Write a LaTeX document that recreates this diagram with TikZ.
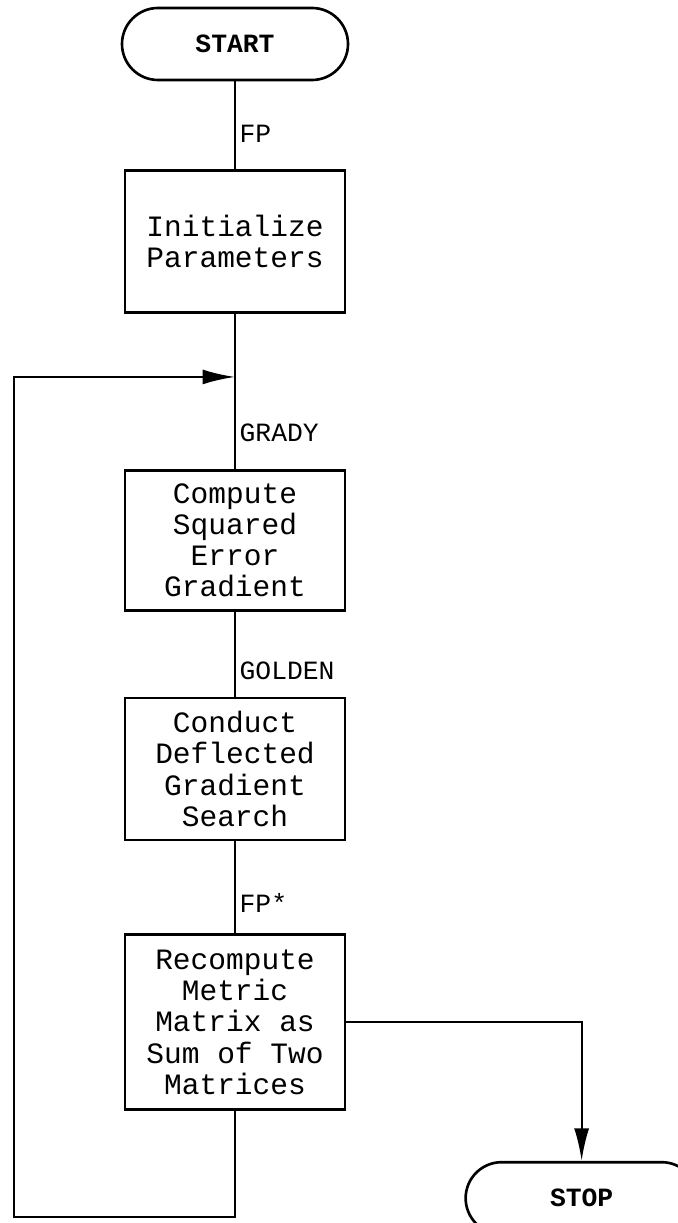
\documentclass[tikz,border=0pt]{standalone}
\usepackage{fontspec}
\setmonofont{Liberation Mono}
\usepackage{tikz}
\usetikzlibrary{arrows.meta, positioning, calc}

\begin{document}
\begin{tikzpicture}[
  procbox/.style  = {draw, line width=1.5pt, minimum width=4.4cm, align=center, inner sep=3pt,
                     font=\ttfamily\fontsize{16.8}{17.8}\selectfont},
  termbox/.style  = {draw, line width=1.5pt, rounded corners=0.72cm, minimum height=1.44cm,
                     align=center, font=\ttfamily\bfseries\fontsize{15}{18}\selectfont},
  flow/.style     = {line width=1.3pt},
  arrow/.style    = {flow, -{Latex[length=0.65cm, width=0.3cm]}},
  lbl/.style      = {right, inner sep=2pt, font=\ttfamily\fontsize{15}{18}\selectfont},
  node distance   = 1.7cm,
]

\useasboundingbox (0,0) rectangle (13.54,-24.46);

%% ==================== MAIN COLUMN ====================
\node[termbox, minimum width=4.52cm] (start) at (4.70,-0.88) {START};

\node[procbox, below=1.76cm of start, minimum height=2.84cm] (init)
      {Initialize\\Parameters};

\node[procbox, below=3.10cm of init, minimum height=2.80cm] (grad)
      {Compute\\Squared\\Error\\Gradient};

\node[procbox, below=1.70cm of grad, minimum height=2.84cm] (search)
      {Conduct\\Deflected\\Gradient\\Search};

\node[procbox, below=1.84cm of search, minimum height=3.50cm] (recomp)
      {Recompute\\Metric\\Matrix as\\Sum of Two\\Matrices};

\node[termbox, minimum width=4.64cm, below right=1.0cm and 2.36cm of recomp] (stop) {STOP};

%% loop corners
\coordinate[below=1.26cm of init] (join);
\coordinate[below=2.12cm of recomp] (loopb);

%% ==================== CONNECTORS ====================
\draw[flow] (start) -- (init) node[lbl, pos=0.6] {FP};
\draw[flow] (init)  -- (grad) node[lbl, pos=0.77] {GRADY};
\draw[flow] (grad)  -- (search) node[lbl, pos=0.7] {GOLDEN};
\draw[flow] (search) -- (recomp) node[lbl, pos=0.67] {FP*};

%% back to the gradient step
\draw[arrow] (recomp.south) -- (loopb) -- ++(-4.42,0) |- (join);

%% exit
\draw[arrow] (recomp.east) -| (stop.north);

\end{tikzpicture}
\end{document}
